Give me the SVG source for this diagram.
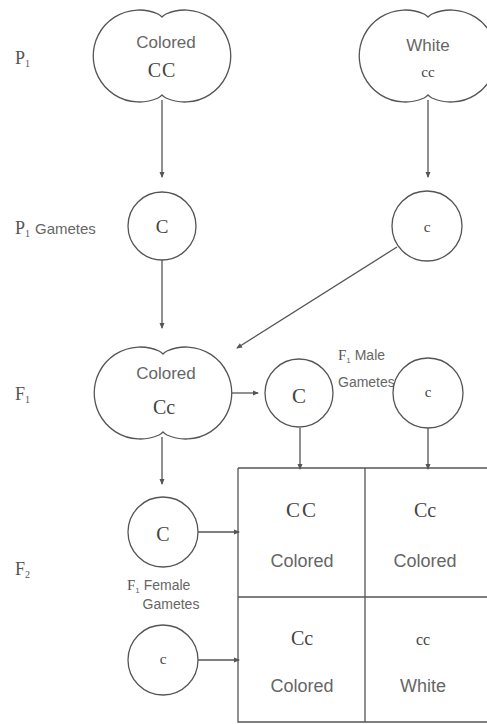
<svg xmlns="http://www.w3.org/2000/svg" width="487" height="724" viewBox="0 0 487 724">
<style>
.ln{stroke:#555;stroke-width:1.3;fill:none}
.sh{stroke:#555;stroke-width:1.3;fill:#fff}
.sans{font-family:"Liberation Sans","DejaVu Sans",sans-serif;fill:#666;text-anchor:middle}
.ser{font-family:"Liberation Serif","DejaVu Serif",serif;fill:#444;text-anchor:middle}
.lab{font-family:"Liberation Serif","DejaVu Serif",serif;fill:#555}
.lsans{font-family:"Liberation Sans","DejaVu Sans",sans-serif;fill:#666}
</style>
<defs>
<path id="lobe" d="M0,-39 Q-2,-41 -4,-42 A46,46 0 1 0 -4,42 Q-2,41 0,39 Q2,41 4,42 A46,46 0 1 0 4,-42 Q2,-41 0,-39 Z"/>
<marker id="ah" markerWidth="6" markerHeight="6" refX="5" refY="3" orient="auto" markerUnits="userSpaceOnUse">
<path d="M0,0.5 L6,3 L0,5.5 Z" fill="#555"/>
</marker>
</defs>
<rect width="487" height="724" fill="#fff"/>
<g id="labels">
<text class="lab" x="15" y="64" font-size="18">P<tspan font-size="10" dy="3">1</tspan></text>
<text class="lab" x="15" y="234" font-size="18">P<tspan font-size="10" dy="3">1</tspan></text>
<text class="lsans" x="35" y="234" font-size="15">Gametes</text>
<text class="lab" x="15" y="400" font-size="18">F<tspan font-size="10" dy="3">1</tspan></text>
<text class="lab" x="15" y="575" font-size="18">F<tspan font-size="10" dy="3">2</tspan></text>
</g>
<g id="connectors" class="ln" marker-end="url(#ah)">
<line x1="162" y1="100" x2="162" y2="177"/>
<line x1="428" y1="100" x2="428" y2="177"/>
<line x1="162" y1="260" x2="162" y2="328"/>
<line x1="397" y1="247" x2="237" y2="348"/>
<line x1="232" y1="393" x2="258" y2="393"/>
<line x1="162" y1="437" x2="162" y2="484"/>
<line x1="300" y1="428" x2="300" y2="469"/>
<line x1="428" y1="428" x2="428" y2="469"/>
<line x1="198" y1="532" x2="239" y2="532"/>
<line x1="198" y1="660" x2="239" y2="660"/>
</g>
<g id="p1-colored">
<use href="#lobe" class="sh" x="162" y="56"/>
<text class="sans" x="166" y="48" font-size="17">Colored</text>
<text class="ser" x="162" y="77" font-size="20" letter-spacing="1">CC</text>
</g>
<g id="p1-white">
<use href="#lobe" class="sh" x="428" y="56"/>
<text class="sans" x="428" y="51" font-size="17">White</text>
<text class="ser" x="428" y="77" font-size="15">cc</text>
</g>
<g id="p1-gamete-C">
<circle cx="162" cy="226" r="34" class="sh"/>
<text class="ser" x="162" y="233" font-size="19">C</text>
</g>
<g id="p1-gamete-c">
<circle cx="427" cy="226" r="35" class="sh"/>
<text class="ser" x="427" y="232" font-size="15">c</text>
</g>
<g id="f1-colored">
<use href="#lobe" class="sh" x="163" y="393"/>
<text class="sans" x="166" y="379" font-size="17">Colored</text>
<text class="ser" x="164" y="414" font-size="20">Cc</text>
</g>
<g id="f1-male-label">
<text class="lsans" x="338" y="360" font-size="14"><tspan class="lab" font-size="15">F</tspan><tspan font-size="8" dy="3">1</tspan><tspan dy="-3"> Male</tspan></text>
<text class="lsans" x="338" y="387" font-size="14">Gametes</text>
</g>
<g id="f1-male-C">
<circle cx="299" cy="393" r="34" class="sh"/>
<text class="ser" x="299" y="403" font-size="21">C</text>
</g>
<g id="f1-male-c">
<circle cx="428" cy="393" r="35" class="sh"/>
<text class="ser" x="428" y="397" font-size="15">c</text>
</g>
<g id="f1-female-C">
<circle cx="163" cy="532" r="35" class="sh"/>
<text class="ser" x="163" y="541" font-size="20">C</text>
</g>
<g id="f1-female-label">
<text class="lsans" x="127" y="590" font-size="14"><tspan class="lab" font-size="15">F</tspan><tspan font-size="8" dy="3">1</tspan><tspan dy="-3"> Female</tspan></text>
<text class="sans" x="171" y="609" font-size="14">Gametes</text>
</g>
<g id="f1-female-c">
<circle cx="163" cy="660" r="35" class="sh"/>
<text class="ser" x="163" y="664" font-size="15">c</text>
</g>
<g id="punnett">
<path class="ln" d="M238,468 H490 M238,468 V722 H490 M365,468 V722 M238,597 H490"/>
<text class="ser" x="302" y="517" font-size="21" letter-spacing="2">CC</text>
<text class="sans" x="302" y="567" font-size="18">Colored</text>
<text class="ser" x="425" y="517" font-size="20">Cc</text>
<text class="sans" x="425" y="567" font-size="18">Colored</text>
<text class="ser" x="302" y="645" font-size="20">Cc</text>
<text class="sans" x="302" y="692" font-size="18">Colored</text>
<text class="ser" x="423" y="645" font-size="16">cc</text>
<text class="sans" x="423" y="692" font-size="18">White</text>
</g>
</svg>
